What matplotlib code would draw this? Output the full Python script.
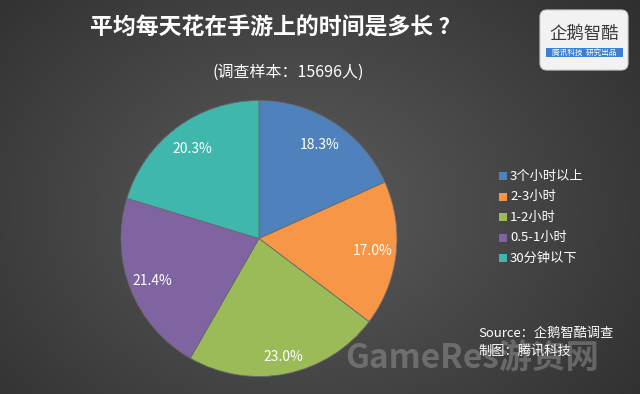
import numpy as np
import matplotlib
matplotlib.use("Agg")
import matplotlib.pyplot as plt
from matplotlib.patches import FancyBboxPatch, Rectangle

plt.rcParams['font.family'] = ['Noto Sans CJK SC', 'DejaVu Sans']

categories = ['3个小时以上', '2-3小时', '1-2小时', '0.5-1小时', '30分钟以下']
values = [18.3, 17.0, 23.0, 21.4, 20.3]
colors = ['#4f81bd', '#f79646', '#9bbb59', '#8064a2', '#3fb7ad']
label_dist = [0.81, 0.83, 0.88, 0.83, 0.81]

title = '平均每天花在手游上的时间是多长 ?'
subtitle = '(调查样本：15696人)'
source1 = 'Source：企鹅智酷调查'
source2 = '制图：腾讯科技'

W, H = 640, 394
fig = plt.figure(figsize=(W / 100, H / 100), dpi=100)

# radial gradient background
bg = fig.add_axes([0, 0, 1, 1])
yy, xx = np.mgrid[0:H, 0:W]
d = np.sqrt(((xx - 300) / 420) ** 2 + ((yy - 210) / 330) ** 2)
v = np.clip(0.36 - 0.17 * d, 0, 1)
img = np.dstack([v, v, v])
bg.imshow(img, extent=[0, W, H, 0], aspect='auto')
bg.set_xlim(0, W)
bg.set_ylim(H, 0)
bg.axis('off')

# pie
r = 138
cx, cy = 259, 238.5
pax = fig.add_axes([(cx - r) / W, 1 - (cy + r) / H, 2 * r / W, 2 * r / H])
wedges, texts, autotexts = pax.pie(values, colors=colors, startangle=90, counterclock=False,
                                   autopct='%1.1f%%', pctdistance=0.81,
                                   wedgeprops=dict(linewidth=0.6, edgecolor='#6a6a6a'),
                                   textprops=dict(color='white', fontsize=10))
for w, t, dist in zip(wedges, autotexts, label_dist):
    ang = np.deg2rad((w.theta1 + w.theta2) / 2)
    t.set_position((dist * np.cos(ang), dist * np.sin(ang)))
pax.set_xlim(-1, 1)
pax.set_ylim(-1, 1)
pax.set_aspect('equal')
pax.axis('off')

# title
bg.text(270, 28, title, color='white', fontsize=16.5, fontweight='bold', ha='center', va='center')
bg.text(288, 72, subtitle, color='white', fontsize=11.5, ha='center', va='center')

# legend
ly0, ldy = 176, 20.5
for i, (c, lab) in enumerate(zip(colors, categories)):
    y = ly0 + i * ldy
    bg.add_patch(Rectangle((499, y - 4), 8, 8, facecolor=c, edgecolor='none'))
    bg.text(510, y, lab, color='white', fontsize=9.5, ha='left', va='center')

# watermark (behind the source text)
bg.text(472, 359, 'GameRes游资网', color='#a0a0a0', alpha=0.45, fontsize=24,
        fontweight='bold', ha='center', va='center', zorder=1)

# source
bg.text(478, 333, source1, color='white', fontsize=9.5, style='italic', ha='left', va='center', zorder=3)
bg.text(478, 351, source2, color='white', fontsize=9.5, style='italic', ha='left', va='center', zorder=3)

# logo
bg.add_patch(FancyBboxPatch((540, 10), 88, 60, boxstyle='round,pad=0,rounding_size=7',
                            facecolor='#f2f2f2', edgecolor='#d0d0d0', linewidth=0.8))
bg.text(584, 34, '企鹅智酷', color='#3a3a3a', fontsize=12.5, ha='center', va='center')
bg.add_patch(Rectangle((546, 48), 77, 9, facecolor='#3d7fd0', edgecolor='none'))
bg.text(584, 52.5, '腾讯科技  研究出品', color='white', fontsize=5.5, style='italic',
        ha='center', va='center')

fig.savefig('out.png', dpi=100)
